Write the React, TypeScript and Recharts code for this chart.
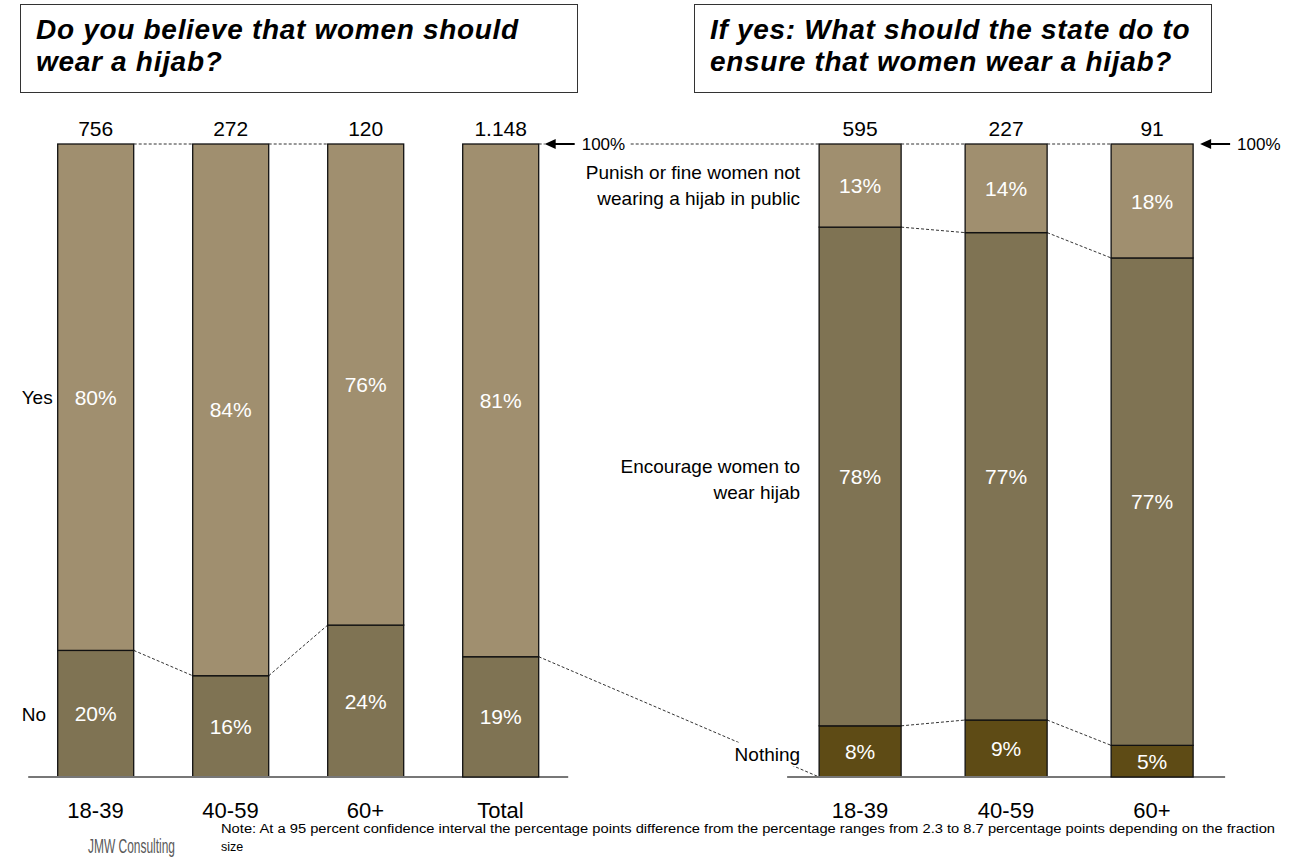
import React from 'react';
import { BarChart, Bar, XAxis, YAxis } from 'recharts';

// ---------- data ----------
const leftCategories = ['18-39', '40-59', '60+', 'Total'];
const leftNo = [20, 16, 24, 19];
const leftYes = [80, 84, 76, 81];
const leftCounts = ['756', '272', '120', '1.148'];
const leftSeriesNames = ['Yes', 'No'];

const rightCategories = ['18-39', '40-59', '60+'];
const rightNothing = [8, 9, 5];
const rightEncourage = [78, 77, 77];
const rightPunish = [13, 14, 18];
const rightCounts = ['595', '227', '91'];
const rightSeriesNames = [
  ['Punish or fine women not', 'wearing a hijab in public'],
  ['Encourage women to', 'wear hijab'],
  ['Nothing'],
];

const leftTitle = ['Do you believe that women should', 'wear a hijab?'];
const rightTitle = ['If yes: What should the state do to', 'ensure that women wear a hijab?'];
const noteLines = [
  'Note: At a 95 percent confidence interval the percentage points difference from the percentage ranges from  2.3 to 8.7 percentage points  depending on the fraction',
  'size',
];
const brand = 'JMW Consulting';
const topLabel = '100%';

const leftData = leftCategories.map((cat, i) => ({ cat, no: leftNo[i], yes: leftYes[i], n: leftCounts[i] }));
const rightData = rightCategories.map((cat, i) => ({
  cat,
  nothing: rightNothing[i],
  encourage: rightEncourage[i],
  punish: rightPunish[i],
  n: rightCounts[i],
}));

// ---------- style ----------
const W = 1292;
const H = 863;
const FONT = "'Liberation Sans', Arial, Helvetica, sans-serif";
const LIGHT = '#A08F6F';
const MID = '#7F7353';
const DARK = '#5E4B15';
const dash = { stroke: '#333', strokeWidth: 1, strokeDasharray: '3 2' };

type Geo = { x: number; y: number; w: number; h: number };
const geo: Record<string, Geo> = {};

function Seg({ x, y, w, h, fill, label }: any) {
  return (
    <>
      <rect x={x} y={y} width={w} height={h} fill={fill} stroke="#111" strokeWidth={1.3} />
      <text x={x + w / 2} y={y + h / 2} dy="0.36em" textAnchor="middle" fill="#fff" fontSize={21} fontFamily={FONT}>
        {label}
      </text>
    </>
  );
}

function Arrow100({ tip, y }: any) {
  return (
    <g>
      <line x1={tip + 8} y1={y} x2={tip + 30} y2={y} stroke="#000" strokeWidth={2} />
      <polygon points={`${tip},${y} ${tip + 11},${y - 5} ${tip + 11},${y + 5}`} fill="#000" />
      <text x={tip + 37} y={y} dy="0.36em" fontSize={17} fontFamily={FONT} fill="#000">
        {topLabel}
      </text>
    </g>
  );
}

function SeriesName({ x, cy, lines, anchor }: any) {
  const lh = 26;
  const start = cy - ((lines.length - 1) * lh) / 2;
  return (
    <text textAnchor={anchor} fontSize={19} fontFamily={FONT} fill="#000">
      {lines.map((l: string, k: number) => (
        <tspan key={k} x={x} y={start + k * lh} dy="0.36em">
          {l}
        </tspan>
      ))}
    </text>
  );
}

function idxOf(props: any, cats: string[]) {
  if (typeof props.index === 'number') return props.index;
  return cats.indexOf(props.payload?.cat);
}

// ---------- left chart shapes ----------
function LeftNoShape(props: any) {
  const { x, y, width: w, height: h, payload } = props;
  const i = idxOf(props, leftCategories);
  geo['lno' + i] = { x, y, w, h };
  const prev = geo['lno' + (i - 1)];
  const first = geo.lno0;
  const second = geo.lno1;
  const gap = first && second ? (second.x - first.x - first.w) / 2 : 0;
  return (
    <g>
      {i > 0 && i < 3 && prev && <line x1={prev.x + prev.w} y1={prev.y} x2={x} y2={y} {...dash} />}
      {i === leftCategories.length - 1 && first && (
        <line x1={first.x - gap} y1={y + h} x2={x + w + gap} y2={y + h} stroke="#777" strokeWidth={2} />
      )}
      <Seg x={x} y={y} w={w} h={h} fill={MID} label={`${payload.no}%`} />
      {i === 0 && <SeriesName x={x - 36} cy={y + h / 2} lines={[leftSeriesNames[1]]} anchor="start" />}
    </g>
  );
}

function LeftYesShape(props: any) {
  const { x, y, width: w, height: h, payload } = props;
  const i = idxOf(props, leftCategories);
  geo['lyes' + i] = { x, y, w, h };
  const prev = geo['lyes' + (i - 1)];
  const last = i === leftCategories.length - 1;
  if (last) {
    geo.l100end = { x: x + w + 6 + 86, y, w: 0, h: 0 };
  }
  return (
    <g>
      {i > 0 && i < 3 && prev && <line x1={prev.x + prev.w} y1={prev.y} x2={x} y2={y} {...dash} />}
      <Seg x={x} y={y} w={w} h={h} fill={LIGHT} label={`${payload.yes}%`} />
      {i === 0 && <SeriesName x={x - 36} cy={y + h / 2} lines={[leftSeriesNames[0]]} anchor="start" />}
      <text x={x + w / 2} y={y - 8} textAnchor="middle" fontSize={21} fontFamily={FONT} fill="#000">
        {payload.n}
      </text>
      {last && (
        <g>
          <line x1={x + w} y1={y} x2={x + w + 6} y2={y} {...dash} />
          <Arrow100 tip={x + w + 6} y={y} />
        </g>
      )}
    </g>
  );
}

// ---------- right chart shapes ----------
function RightNothingShape(props: any) {
  const { x, y, width: w, height: h, payload } = props;
  const i = idxOf(props, rightCategories);
  geo['rno' + i] = { x, y, w, h };
  const prev = geo['rno' + (i - 1)];
  const first = geo.rno0;
  const second = geo.rno1;
  const gap = first && second ? (second.x - first.x - first.w) / 2 : 0;
  const total = geo['lno' + (leftCategories.length - 1)];
  const nameW = 68;
  return (
    <g>
      {i > 0 && prev && <line x1={prev.x + prev.w} y1={prev.y} x2={x} y2={y} {...dash} />}
      {i === rightCategories.length - 1 && first && (
        <line x1={first.x - gap} y1={y + h} x2={x + w + gap} y2={y + h} stroke="#777" strokeWidth={2} />
      )}
      <Seg x={x} y={y} w={w} h={h} fill={DARK} label={`${payload.nothing}%`} />
      {i === 0 && total && (
        <line x1={total.x + total.w} y1={total.y} x2={x} y2={y + h} {...dash} />
      )}
      {i === 0 && (
        <g>
          <rect x={x - 19 - nameW - 2} y={y + h / 2 - 9} width={nameW + 4} height={24} fill="#fff" />
          <SeriesName x={x - 19} cy={y + h / 2 + 3} lines={rightSeriesNames[2]} anchor="end" />
        </g>
      )}
    </g>
  );
}

function RightEncourageShape(props: any) {
  const { x, y, width: w, height: h, payload } = props;
  const i = idxOf(props, rightCategories);
  geo['ren' + i] = { x, y, w, h };
  const prev = geo['ren' + (i - 1)];
  return (
    <g>
      {i > 0 && prev && <line x1={prev.x + prev.w} y1={prev.y} x2={x} y2={y} {...dash} />}
      <Seg x={x} y={y} w={w} h={h} fill={MID} label={`${payload.encourage}%`} />
      {i === 0 && <SeriesName x={x - 19} cy={y + h / 2 + 3} lines={rightSeriesNames[1]} anchor="end" />}
    </g>
  );
}

function RightPunishShape(props: any) {
  const { x, y, width: w, height: h, payload } = props;
  const i = idxOf(props, rightCategories);
  geo['rpu' + i] = { x, y, w, h };
  const prev = geo['rpu' + (i - 1)];
  const start = geo.l100end;
  const last = i === rightCategories.length - 1;
  return (
    <g>
      {i > 0 && prev && <line x1={prev.x + prev.w} y1={prev.y} x2={x} y2={y} {...dash} />}
      {i === 0 && start && <line x1={start.x} y1={y} x2={x} y2={y} {...dash} />}
      <Seg x={x} y={y} w={w} h={h} fill={LIGHT} label={`${payload.punish}%`} />
      {i === 0 && <SeriesName x={x - 19} cy={y + h / 2} lines={rightSeriesNames[0]} anchor="end" />}
      <text x={x + w / 2} y={y - 8} textAnchor="middle" fontSize={21} fontFamily={FONT} fill="#000">
        {payload.n}
      </text>
      {last && <Arrow100 tip={x + w + 7} y={y} />}
    </g>
  );
}

const tickStyle = { fontSize: 22, fill: '#000', fontFamily: FONT };

function TitleBox({ left, width, lines }: any) {
  return (
    <div
      style={{
        position: 'absolute',
        left,
        top: 4,
        width,
        height: 89,
        boxSizing: 'border-box',
        border: '1.5px solid #333',
        background: '#fff',
        padding: '9px 0 0 15px',
        fontFamily: FONT,
        fontWeight: 'bold',
        fontStyle: 'italic',
        fontSize: 28,
        letterSpacing: '0.7px',
        lineHeight: '32px',
        color: '#000',
        whiteSpace: 'nowrap',
      }}
    >
      {lines.map((l: string, k: number) => (
        <div key={k}>{l}</div>
      ))}
    </div>
  );
}

export default function App() {
  const [tick, setTick] = React.useState(0);
  React.useEffect(() => {
    let n = 0;
    const id = setInterval(() => {
      n += 1;
      setTick((t) => t + 1);
      if (n > 6) clearInterval(id);
    }, 60);
    return () => clearInterval(id);
  }, []);

  const margin = { top: 144, bottom: 56 };
  return (
    <div style={{ position: 'absolute', left: 0, top: 0, width: W, height: H, background: '#fff', overflow: 'hidden' }}>
      <div style={{ position: 'absolute', left: 0, top: 0 }}>
        <BarChart
          width={W}
          height={H}
          data={leftData}
          margin={{ ...margin, left: 28, right: W - 568 }}
          barCategoryGap="22%"
          stackOffset="expand"
        >
          <XAxis dataKey="cat" axisLine={false} tickLine={false} tickSize={0} tickMargin={25} height={30} tick={tickStyle} interval={0} />
          <YAxis hide domain={[0, 1]} />
          <Bar dataKey="no" stackId="a" isAnimationActive={false} shape={(p: any) => <LeftNoShape {...p} t={tick} />} />
          <Bar dataKey="yes" stackId="a" isAnimationActive={false} shape={(p: any) => <LeftYesShape {...p} t={tick} />} />
        </BarChart>
      </div>
      <div style={{ position: 'absolute', left: 0, top: 0 }}>
        <BarChart
          width={W}
          height={H}
          data={rightData}
          margin={{ ...margin, left: 787, right: W - 1225 }}
          barCategoryGap="22%"
          stackOffset="expand"
        >
          <XAxis dataKey="cat" axisLine={false} tickLine={false} tickSize={0} tickMargin={25} height={30} tick={tickStyle} interval={0} />
          <YAxis hide domain={[0, 1]} />
          <Bar dataKey="nothing" stackId="b" isAnimationActive={false} shape={(p: any) => <RightNothingShape {...p} t={tick} />} />
          <Bar dataKey="encourage" stackId="b" isAnimationActive={false} shape={(p: any) => <RightEncourageShape {...p} t={tick} />} />
          <Bar dataKey="punish" stackId="b" isAnimationActive={false} shape={(p: any) => <RightPunishShape {...p} t={tick} />} />
        </BarChart>
      </div>
      <TitleBox left={20} width={558} lines={leftTitle} />
      <TitleBox left={694} width={518} lines={rightTitle} />
      <svg style={{ position: 'absolute', left: 0, top: 0 }} width={W} height={H} pointerEvents="none">
        <g transform="translate(88,853) scale(1,1.2)">
          <text x={0} y={0} fontSize={16.5} fontFamily={FONT} fill="#595959" textLength={87} lengthAdjust="spacingAndGlyphs">
            {brand}
          </text>
        </g>
        <text x={221} y={833} fontSize={12.5} fontFamily={FONT} fill="#000" textLength={1054} lengthAdjust="spacingAndGlyphs">
          {noteLines[0]}
        </text>
        <text x={221} y={851} fontSize={12.5} fontFamily={FONT} fill="#000">
          {noteLines[1]}
        </text>
      </svg>
    </div>
  );
}
